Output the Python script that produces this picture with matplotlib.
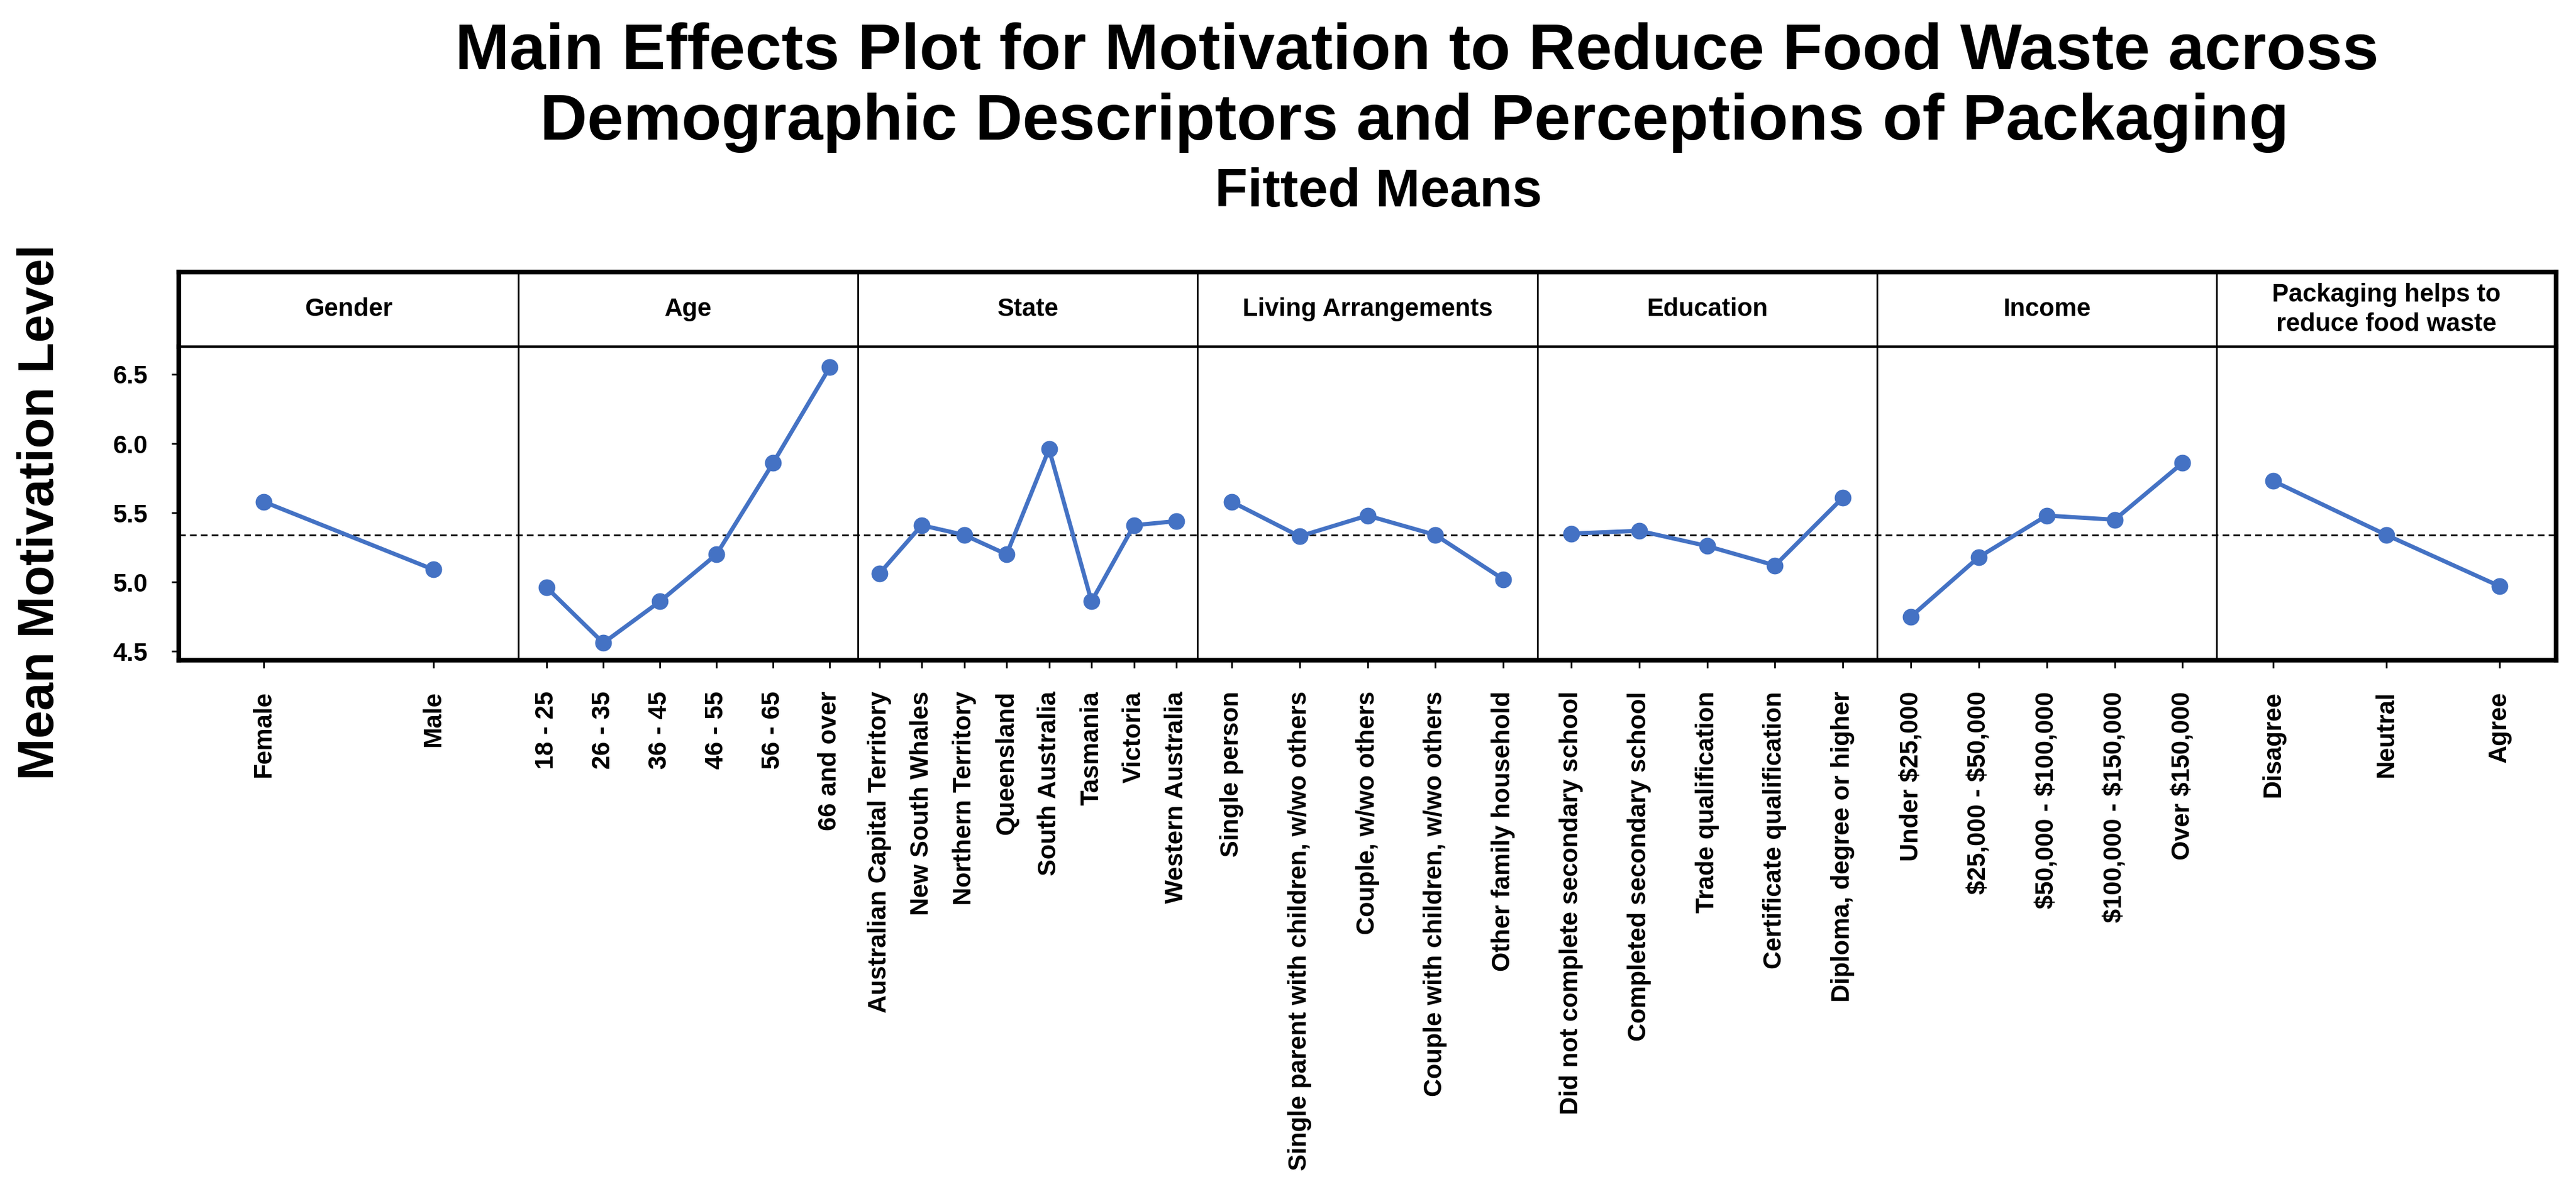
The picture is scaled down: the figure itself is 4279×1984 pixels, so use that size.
import matplotlib
matplotlib.use('Agg')
import matplotlib.pyplot as plt

plt.rcParams['font.family'] = ['Liberation Sans', 'DejaVu Sans']
plt.rcParams['font.weight'] = 'bold'
plt.rcParams['text.parse_math'] = False  # keep the $ signs literal

# Data
factors = ['Gender', 'Age', 'State', 'Living Arrangements', 'Education', 'Income',
           'Packaging helps to\nreduce food waste']

gender_levels = ['Female', 'Male']
gender_means = [5.58, 5.09]

age_levels = ['18 - 25', '26 - 35', '36 - 45', '46 - 55', '56 - 65', '66 and over']
age_means = [4.96, 4.56, 4.86, 5.20, 5.86, 6.55]

state_levels = ['Australian Capital Territory', 'New South Whales', 'Northern Territory',
                'Queensland', 'South Australia', 'Tasmania', 'Victoria', 'Western Australia']
state_means = [5.06, 5.41, 5.34, 5.20, 5.96, 4.86, 5.41, 5.44]

living_levels = ['Single person', 'Single parent with children, w/wo others', 'Couple, w/wo others',
                 'Couple with children, w/wo others', 'Other family household']
living_means = [5.58, 5.33, 5.48, 5.34, 5.02]

edu_levels = ['Did not complete secondary school', 'Completed secondary school',
              'Trade qualification', 'Certificate qualification', 'Diploma, degree or higher']
edu_means = [5.35, 5.37, 5.26, 5.12, 5.61]

income_levels = ['Under $25,000', '$25,000 - $50,000', '$50,000 - $100,000',
                 '$100,000 - $150,000', 'Over $150,000']
income_means = [4.75, 5.18, 5.48, 5.45, 5.86]

pack_levels = ['Disagree', 'Neutral', 'Agree']
pack_means = [5.73, 5.34, 4.97]

overall_mean = 5.34

groups = [
    (gender_levels, gender_means),
    (age_levels, age_means),
    (state_levels, state_means),
    (living_levels, living_means),
    (edu_levels, edu_means),
    (income_levels, income_means),
    (pack_levels, pack_means),
]

blue = '#4472C4'

fig = plt.figure(figsize=(42.79, 19.84), dpi=100)
x0, x1 = 0.0694, 0.9923
hdr = fig.add_axes([x0, 0.7097, x1 - x0, 0.772 - 0.7097])
ax = fig.add_axes([x0, 0.447, x1 - x0, 0.7097 - 0.447])

n = len(groups)
ticks, labels = [], []
for g, (levels, means) in enumerate(groups):
    xs = [g + (i + 0.5) / len(levels) for i in range(len(levels))]
    ax.plot(xs, means, '-o', color=blue, lw=5, ms=19, zorder=3)
    ticks += xs
    labels += levels
    hdr.text(g + 0.5, 0.5, factors[g], ha='center', va='center', fontsize=30,
             fontweight='bold', linespacing=1.3)
    if g > 0:
        ax.axvline(g, color='black', lw=2)
        hdr.axvline(g, color='black', lw=2)

ax.axhline(overall_mean, color='black', lw=2, ls=(0, (4, 2.5)), zorder=2)

ax.set_xlim(0, n)
ax.set_ylim(4.435, 6.70)
ax.set_yticks([4.5, 5.0, 5.5, 6.0, 6.5])
ax.set_yticklabels(['4.5', '5.0', '5.5', '6.0', '6.5'])
ax.set_xticks(ticks)
ax.set_xticklabels(labels, rotation=90)
ax.tick_params(axis='both', direction='out', length=9, width=2, labelsize=30, pad=28)

for s in ['left', 'right', 'bottom']:
    ax.spines[s].set_linewidth(5.5)
ax.spines['top'].set_linewidth(3)

hdr.set_xlim(0, n)
hdr.set_ylim(0, 1)
hdr.set_xticks([])
hdr.set_yticks([])
for s in ['left', 'right', 'top']:
    hdr.spines[s].set_linewidth(5.5)
hdr.spines['bottom'].set_visible(False)

fig.text(0.550, 0.942, 'Main Effects Plot for Motivation to Reduce Food Waste across',
         ha='center', va='baseline', fontsize=78, fontweight='bold')
fig.text(0.549, 0.883, 'Demographic Descriptors and Perceptions of Packaging',
         ha='center', va='baseline', fontsize=78, fontweight='bold')
fig.text(0.535, 0.827, 'Fitted Means', ha='center', va='baseline', fontsize=64,
         fontweight='bold')
fig.text(0.0157, 0.571, 'Mean Motivation Level', rotation=90, ha='center', va='center',
         fontsize=60, fontweight='bold')

fig.savefig('out.png', dpi=100)
